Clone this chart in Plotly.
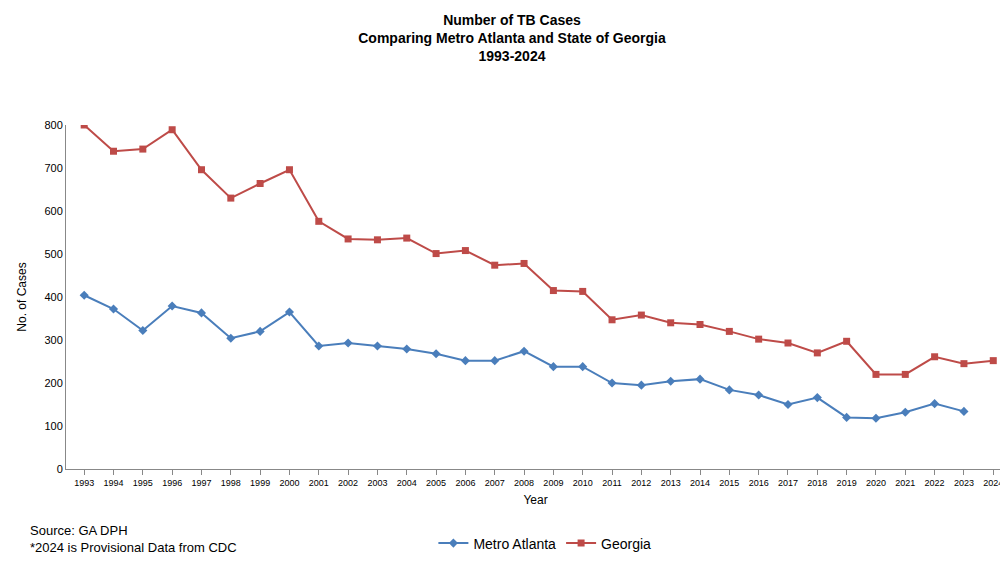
import plotly.graph_objects as go

years = [str(y) for y in range(1993, 2025)]
georgia = [800, 739, 744, 789, 696, 630, 664, 696, 576, 535, 533, 537, 501, 508, 474, 478,
           415, 413, 347, 358, 340, 336, 320, 302, 293, 270, 297, 220, 220, 261, 245, 252]
metro = [404, 372, 322, 379, 363, 304, 320, 365, 286, 293, 286, 279, 268, 252, 252, 274,
         238, 238, 200, 195, 204, 209, 184, 172, 150, 166, 120, 118, 132, 152, 134]

fig = go.Figure()
fig.add_trace(go.Scatter(x=years[:len(metro)], y=metro, name="Metro Atlanta", mode="lines+markers",
                         line=dict(color="#4a7ebb", width=2), marker=dict(symbol="diamond", size=7)))
fig.add_trace(go.Scatter(x=years, y=georgia, name="Georgia", mode="lines+markers",
                         line=dict(color="#be4b48", width=2), marker=dict(symbol="square", size=7)))

fig.update_layout(
    width=1008, height=563, plot_bgcolor="white", paper_bgcolor="white",
    font=dict(family="Liberation Sans, Arial", size=11, color="black"),
    margin=dict(l=58, r=11, t=117, b=77),
    title=dict(text="<b>Number of TB Cases<br>Comparing Metro Atlanta and State of Georgia<br>1993-2024</b>",
               x=0.5, xanchor="center", y=0.97, yanchor="top", font=dict(size=14)),
    legend=dict(orientation="h", x=0.51, xanchor="center", y=-0.17, yanchor="top", font=dict(size=14)),
    xaxis=dict(type="category", range=[-0.62, 31.4], title=dict(text="Year", standoff=8, font=dict(size=12)),
               showline=True, linecolor="#888", ticks="outside", tickcolor="#888", tickfont=dict(size=9)),
    yaxis=dict(range=[0, 800], dtick=100, title=dict(text="No. of Cases", font=dict(size=12)),
               showline=True, linecolor="#888", showgrid=False, zeroline=False, tickfont=dict(size=11)),
)
fig.add_annotation(text="Source: GA DPH<br>*2024 is Provisional Data from CDC", xref="paper", yref="paper",
                   x=-0.04, y=-0.15, xanchor="left", yanchor="top", showarrow=False, align="left",
                   font=dict(size=13))
fig.write_html("out.html")
